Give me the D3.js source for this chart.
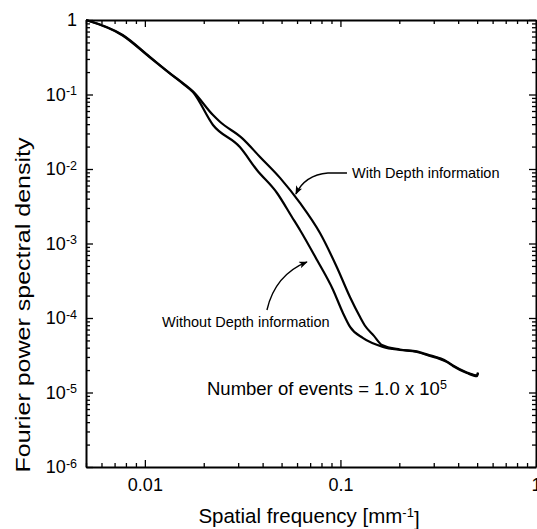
<!DOCTYPE html>
<html>
<head>
<meta charset="utf-8">
<script src="https://cdn.jsdelivr.net/npm/d3@7"></script>
<style>
  body { margin: 0; background: #fff; }
  svg text { font-family: Arial, "Liberation Sans", sans-serif; fill: #000; }
</style>
</head>
<body>
<script>
// spatial frequency [mm^-1] and normalised power
var freqWith = [0.005, 0.0077, 0.0106, 0.0134, 0.0157, 0.0176, 0.0223, 0.0242, 0.0314, 0.0388, 0.0491, 0.0621, 0.0786, 0.0959, 0.112, 0.126, 0.133, 0.148, 0.163,
                0.2014, 0.246, 0.2767, 0.351, 0.376, 0.443, 0.499, 0.505];
var psdWith  = [1.0, 0.63, 0.32, 0.194, 0.141, 0.110, 0.053, 0.043, 0.026, 0.0145, 0.0076, 0.0035, 0.00138, 0.00048, 0.00019, 0.000103, 0.00008, 0.000058, 0.0000435,
                0.0000378, 0.0000356, 0.0000325, 0.000026, 0.0000231, 0.0000186, 0.0000169, 0.0000185];

var freqWithout = [0.005, 0.0077, 0.0106, 0.0134, 0.0157, 0.0176, 0.0223, 0.0306, 0.0374, 0.0473, 0.0565, 0.0621, 0.0759, 0.0916, 0.103, 0.112, 0.130, 0.165,
                   0.2014, 0.246, 0.2767, 0.351, 0.376, 0.443, 0.499, 0.505];
var psdWithout  = [1.0, 0.62, 0.315, 0.192, 0.139, 0.108, 0.039, 0.0197, 0.0097, 0.0048, 0.00227, 0.00152, 0.0006, 0.00024, 0.000117, 0.000076, 0.000054, 0.000041,
                   0.0000372, 0.000035, 0.0000319, 0.0000256, 0.0000227, 0.0000183, 0.0000166, 0.0000183];

var xMajor = [0.01, 0.1, 1];
var xMajorLabels = ["0.01", "0.1", "1"];
var yMajor = [1, 1e-1, 1e-2, 1e-3, 1e-4, 1e-5, 1e-6];
var yMajorExp = [0, -1, -2, -3, -4, -5, -6];

// annotation anchors, in data units
var withText = [0.1146, 0.00757];
var withArrow = [[0.108, 0.00884], [0.0863, 0.00884], [0.0658, 0.0083], [0.0592, 0.00462]];
var withoutText = [0.01224, 0.0000757];
var withoutArrow = [[0.0421, 0.000128], [0.0463, 0.000378], [0.0674, 0.000565]];
var eventsText = [0.02078, 0.00000925];

var margin = { top: 20, right: 1, bottom: 62, left: 86 },
    width = 537 - margin.left - margin.right,
    height = 529 - margin.top - margin.bottom;

var x = d3.scaleLog().domain([0.005, 1]).range([0, width]);
var y = d3.scaleLog().domain([1e-6, 1]).range([height, 0]);

var xMinor = x.ticks().filter(function(d) { return xMajor.indexOf(d) < 0; });
var yMinor = y.ticks().filter(function(d) { return yMajor.indexOf(d) < 0; });

var svg = d3.select("body").append("svg")
    .attr("width", 537)
    .attr("height", 529);

svg.append("defs").append("marker")
    .attr("id", "head")
    .attr("viewBox", "0 0 10 8")
    .attr("refX", 9).attr("refY", 4)
    .attr("markerWidth", 9).attr("markerHeight", 7)
    .attr("markerUnits", "userSpaceOnUse")
    .attr("orient", "auto")
    .append("path").attr("d", "M0,0 L10,4 L0,8 L2.5,4 Z").attr("fill", "#000");

var g = svg.append("g")
    .attr("transform", "translate(" + margin.left + "," + margin.top + ")");

// minor ticks on all four sides, pointing inwards
function minor(axis, vals, tr) {
    g.append("g").attr("class", "minor").attr("transform", tr)
        .call(axis.tickValues(vals).tickSize(-4).tickSizeOuter(0).tickFormat(""));
}
minor(d3.axisBottom(x), xMinor, "translate(0," + height + ")");
minor(d3.axisTop(x), xMinor, "translate(0,0)");
minor(d3.axisLeft(y), yMinor, "translate(0,0)");
minor(d3.axisRight(y), yMinor, "translate(" + width + ",0)");

var xAxis = g.append("g").attr("class", "major")
    .attr("transform", "translate(0," + height + ")")
    .call(d3.axisBottom(x).tickValues(xMajor).tickSize(-7).tickSizeOuter(0).tickPadding(11)
        .tickFormat(function(d, i) { return xMajorLabels[i]; }));
g.append("g").attr("class", "major")
    .call(d3.axisTop(x).tickValues(xMajor).tickSize(-7).tickSizeOuter(0).tickFormat(""));
var yAxis = g.append("g").attr("class", "major")
    .call(d3.axisLeft(y).tickValues(yMajor).tickSize(-7).tickSizeOuter(0).tickPadding(9));
g.append("g").attr("class", "major")
    .attr("transform", "translate(" + width + ",0)")
    .call(d3.axisRight(y).tickValues(yMajor).tickSize(-7).tickSizeOuter(0).tickFormat(""));

g.selectAll(".minor .domain").remove();
g.selectAll(".major .domain").attr("stroke", "#000").attr("stroke-width", 2);
g.selectAll(".tick line").attr("stroke", "#000").attr("stroke-width", 1.3);
g.selectAll(".tick text").attr("font-family", null).attr("font-size", "18px").attr("fill", "#000");

// 10 with superscript exponent
yAxis.selectAll(".tick text").each(function(d, i) {
    var t = d3.select(this).text(null);
    if (yMajorExp[i] === 0) { t.text("1"); return; }
    t.append("tspan").text("10");
    t.append("tspan").attr("dy", "-0.45em").attr("font-size", "12.5px").text(yMajorExp[i]);
});

// curves
var line = d3.line()
    .x(function(d) { return x(d[0]); })
    .y(function(d) { return y(d[1]); })
    .curve(d3.curveMonotoneX);

g.append("path")
    .datum(d3.zip(freqWithout, psdWithout))
    .attr("fill", "none").attr("stroke", "#000").attr("stroke-width", 2.2)
    .attr("d", line);
g.append("path")
    .datum(d3.zip(freqWith, psdWith))
    .attr("fill", "none").attr("stroke", "#000").attr("stroke-width", 2.2)
    .attr("d", line);

// annotations
function pt(p) { return x(p[0]) + "," + y(p[1]); }

g.append("path")
    .attr("d", "M" + pt(withArrow[0]) + "L" + pt(withArrow[1]) + "Q" + pt(withArrow[2]) + " " + pt(withArrow[3]))
    .attr("fill", "none").attr("stroke", "#000").attr("stroke-width", 1.4)
    .attr("marker-end", "url(#head)");
g.append("path")
    .attr("d", "M" + pt(withoutArrow[0]) + "Q" + pt(withoutArrow[1]) + " " + pt(withoutArrow[2]))
    .attr("fill", "none").attr("stroke", "#000").attr("stroke-width", 1.4)
    .attr("marker-end", "url(#head)");

g.append("text")
    .attr("x", x(withText[0])).attr("y", y(withText[1]))
    .attr("font-size", "14.5px")
    .text("With Depth information");
g.append("text")
    .attr("x", x(withoutText[0])).attr("y", y(withoutText[1]))
    .attr("font-size", "14.5px")
    .text("Without Depth information");

var ev = g.append("text")
    .attr("x", x(eventsText[0])).attr("y", y(eventsText[1]))
    .attr("font-size", "18.5px");
ev.append("tspan").text("Number of events = 1.0 x 10");
ev.append("tspan").attr("dy", "-0.45em").attr("font-size", "12.5px").text("5");

// axis titles
var xt = svg.append("text")
    .attr("x", 309).attr("y", 523)
    .attr("text-anchor", "middle")
    .attr("font-size", "20.5px");
xt.append("tspan").text("Spatial frequency [mm");
xt.append("tspan").attr("dy", "-0.45em").attr("font-size", "13px").text("-1");
xt.append("tspan").attr("dy", "0.45em").text("]");

svg.append("text")
    .attr("transform", "translate(30,305) rotate(-90)")
    .attr("text-anchor", "middle")
    .attr("font-size", "20px")
    .attr("textLength", 335)
    .attr("lengthAdjust", "spacingAndGlyphs")
    .text("Fourier power spectral density");
</script>
</body>
</html>
